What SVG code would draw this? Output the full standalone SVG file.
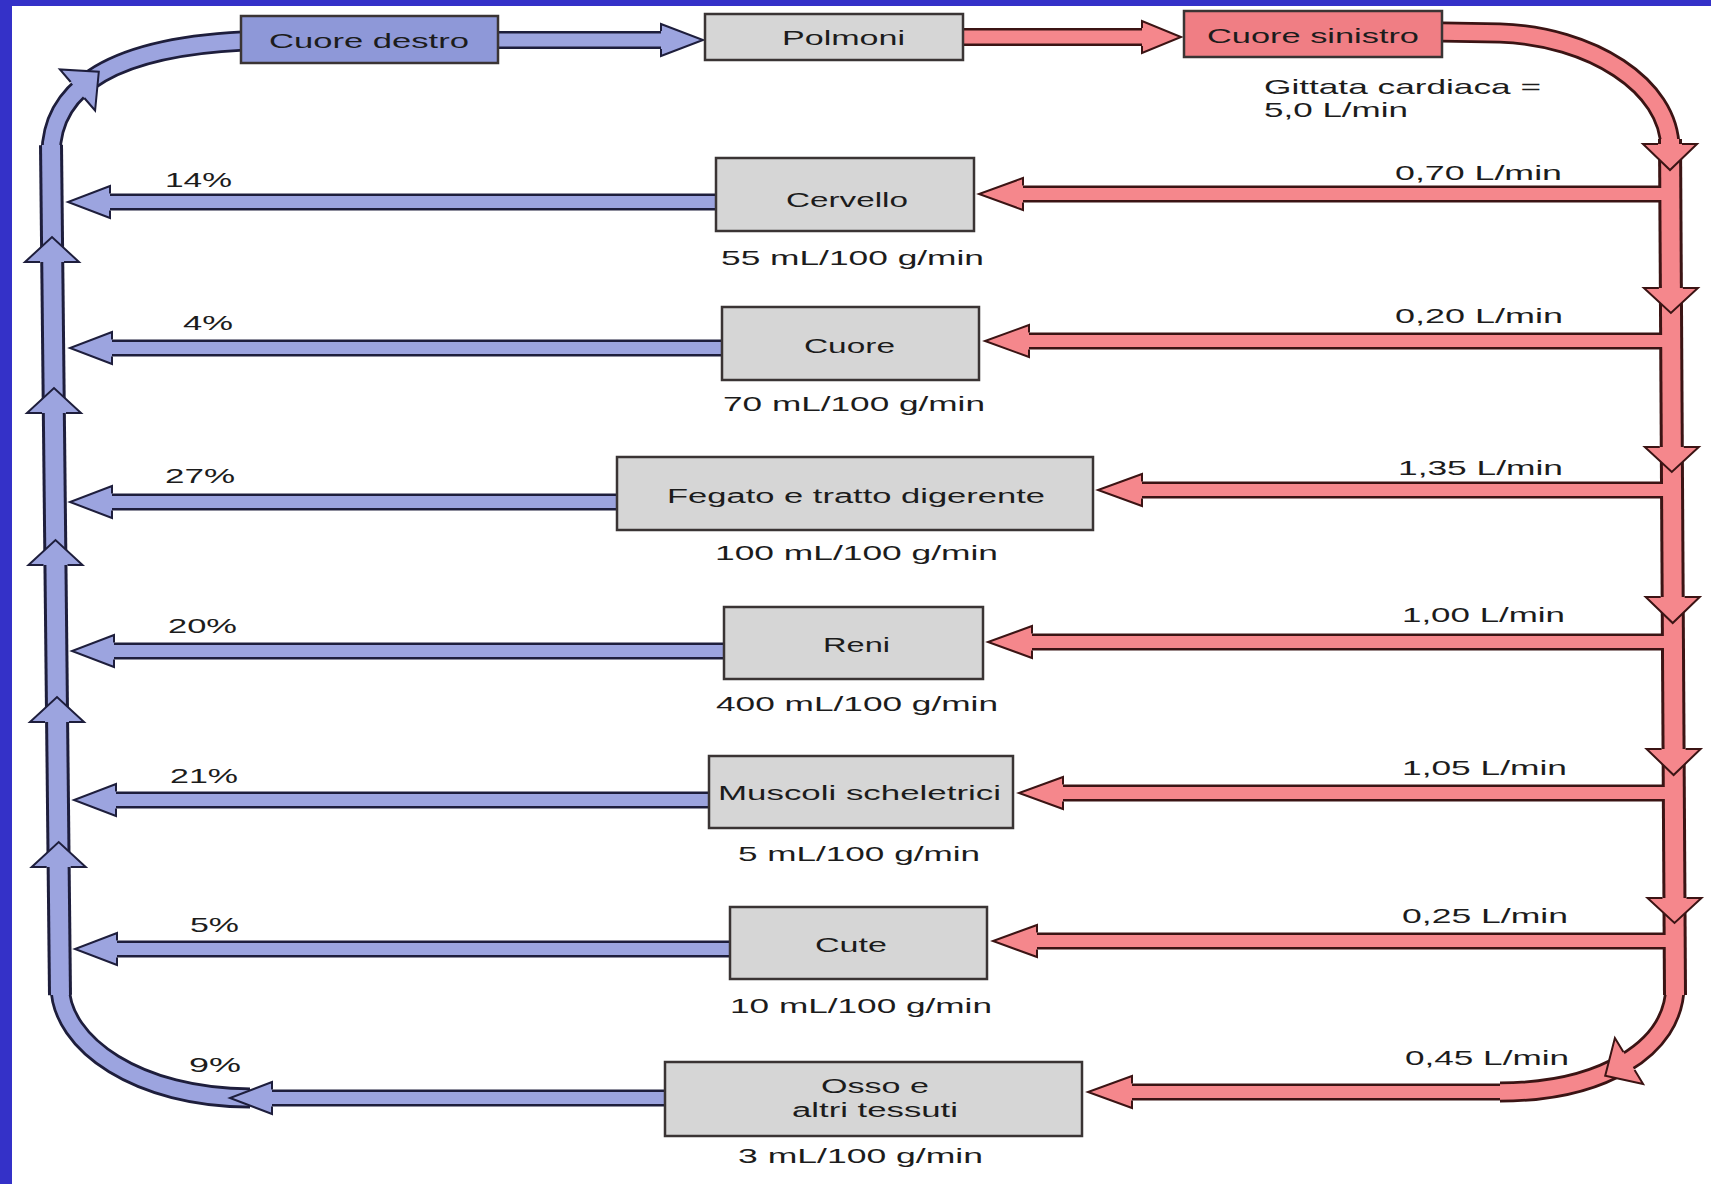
<svg xmlns="http://www.w3.org/2000/svg" xmlns:xlink="http://www.w3.org/1999/xlink" width="1711" height="1184" viewBox="0 0 1711 1184">
<style>
.t{font-family:"Liberation Sans",Arial,sans-serif;font-size:21px;fill:#1c1c1c}
.tb{font-size:20px}
.box{stroke:#3a3434;stroke-width:2.5}
.gray{fill:#d6d6d6}
.bd{fill:none;stroke:#1e1e3c}
.bl{fill:none;stroke:#9ca4df}
.rd{fill:none;stroke:#3b1414}
.rl{fill:none;stroke:#f5878c}
.tw{stroke-width:24}
.ti{stroke-width:18}
.cw{stroke-width:21}
.ci{stroke-width:15.5}
.sw{stroke-width:17}
.si{stroke-width:12}
.bh{fill:#9ca4df;stroke:#1e1e3c;stroke-width:2;stroke-linejoin:miter}
.rh{fill:#f5878c;stroke:#3b1414;stroke-width:2;stroke-linejoin:miter}
</style>
<defs>
<path id="bTrunk" d="M60,995 L51,145"/>
<path id="bCurveB" d="M250,1098 C140,1098 60,1045 60,985"/>
<path id="bCurveT" d="M51,155 C51,95 100,48 243,41"/>
<path id="bTop" d="M498,40 L665,40"/>
<path id="bB1" d="M716,202 L106,202"/>
<path id="bB2" d="M722,348 L108,348"/>
<path id="bB3" d="M617,502 L108,502"/>
<path id="bB4" d="M724,651 L110,651"/>
<path id="bB5" d="M709,800 L112,800"/>
<path id="bB6" d="M730,949 L113,949"/>
<path id="bB7" d="M665,1098 L268,1098"/>
<path id="rCurveT" d="M1442,32 L1500,33 C1590,36 1670,85 1670,149"/>
<path id="rTrunk" d="M1670,139 L1675,995"/>
<path id="rCurveB" d="M1675,985 C1675,1050 1600,1092 1500,1092"/>
<path id="rTop" d="M963,37 L1146,37"/>
<path id="rB1" d="M1670,194 L1019,194"/>
<path id="rB2" d="M1671,341 L1025,341"/>
<path id="rB3" d="M1672,490 L1138,490"/>
<path id="rB4" d="M1673,642 L1028,642"/>
<path id="rB5" d="M1674,793 L1059,793"/>
<path id="rB6" d="M1675,941 L1033,941"/>
<path id="rB7" d="M1505,1092 L1128,1092"/>
</defs>
<rect x="0" y="0" width="1711" height="1184" fill="#ffffff"/>
<rect x="0" y="0" width="1711" height="6" fill="#3431c8"/>
<rect x="0" y="0" width="12" height="1184" fill="#3431c8"/>

<g id="connectors">
  <g id="outlines">
    <use xlink:href="#bTrunk" class="bd tw"/>
    <use xlink:href="#bCurveB" class="bd cw"/>
    <use xlink:href="#bCurveT" class="bd cw"/>
    <use xlink:href="#bTop" class="bd" stroke-width="18"/>
    <use xlink:href="#bB1" class="bd sw"/>
    <use xlink:href="#bB2" class="bd sw"/>
    <use xlink:href="#bB3" class="bd sw"/>
    <use xlink:href="#bB4" class="bd sw"/>
    <use xlink:href="#bB5" class="bd sw"/>
    <use xlink:href="#bB6" class="bd sw"/>
    <use xlink:href="#bB7" class="bd sw"/>
    <use xlink:href="#rTrunk" class="rd tw"/>
    <use xlink:href="#rCurveT" class="rd cw"/>
    <use xlink:href="#rCurveB" class="rd cw"/>
    <use xlink:href="#rTop" class="rd" stroke-width="18"/>
    <use xlink:href="#rB1" class="rd sw"/>
    <use xlink:href="#rB2" class="rd sw"/>
    <use xlink:href="#rB3" class="rd sw"/>
    <use xlink:href="#rB4" class="rd sw"/>
    <use xlink:href="#rB5" class="rd sw"/>
    <use xlink:href="#rB6" class="rd sw"/>
    <use xlink:href="#rB7" class="rd sw"/>
  </g>
  <g id="fills">
    <use xlink:href="#bTrunk" class="bl ti"/>
    <use xlink:href="#bCurveB" class="bl ci"/>
    <use xlink:href="#bCurveT" class="bl ci"/>
    <use xlink:href="#bTop" class="bl" stroke-width="13"/>
    <use xlink:href="#bB1" class="bl si"/>
    <use xlink:href="#bB2" class="bl si"/>
    <use xlink:href="#bB3" class="bl si"/>
    <use xlink:href="#bB4" class="bl si"/>
    <use xlink:href="#bB5" class="bl si"/>
    <use xlink:href="#bB6" class="bl si"/>
    <use xlink:href="#bB7" class="bl si"/>
    <use xlink:href="#rTrunk" class="rl ti"/>
    <use xlink:href="#rCurveT" class="rl ci"/>
    <use xlink:href="#rCurveB" class="rl ci"/>
    <use xlink:href="#rTop" class="rl" stroke-width="13"/>
    <use xlink:href="#rB1" class="rl si"/>
    <use xlink:href="#rB2" class="rl si"/>
    <use xlink:href="#rB3" class="rl si"/>
    <use xlink:href="#rB4" class="rl si"/>
    <use xlink:href="#rB5" class="rl si"/>
    <use xlink:href="#rB6" class="rl si"/>
    <use xlink:href="#rB7" class="rl si"/>
  </g>
  <g id="blue-heads">
    <path class="bh" d="M661,31 L661,24 L703,40 L661,56 L661,49"/>
    <path class="bh" d="M70.7,82 L59.9,69.5 L98.8,71.8 L95.1,110.5 L84.3,98"/>
    <path class="bh" d="M40,262 L25,262 L52,237 L79,262 L64,262"/>
    <path class="bh" d="M42,413 L27,413 L54,388 L81,413 L66,413"/>
    <path class="bh" d="M43.5,565 L28.5,565 L55.5,540 L82.5,565 L67.5,565"/>
    <path class="bh" d="M45,722 L30,722 L57,697 L84,722 L69,722"/>
    <path class="bh" d="M46.7,867 L31.7,867 L58.7,842 L85.7,867 L70.7,867"/>
    <path class="bh" d="M110,193.5 L110,186 L68,202 L110,218 L110,210.5"/>
    <path class="bh" d="M112,339.5 L112,332 L70,348 L112,364 L112,356.5"/>
    <path class="bh" d="M112,493.5 L112,486 L70,502 L112,518 L112,510.5"/>
    <path class="bh" d="M114,642.5 L114,635 L72,651 L114,667 L114,659.5"/>
    <path class="bh" d="M116,791.5 L116,784 L74,800 L116,816 L116,808.5"/>
    <path class="bh" d="M117,940.5 L117,933 L75,949 L117,965 L117,957.5"/>
    <path class="bh" d="M272,1089.5 L272,1082 L230,1098 L272,1114 L272,1106.5"/>
  </g>
  <g id="red-heads">
    <path class="rh" d="M1142,28 L1142,21 L1181,37 L1142,53 L1142,46"/>
    <path class="rh" d="M1658,144 L1643,144 L1670,170 L1697,144 L1682,144"/>
    <path class="rh" d="M1658.9,288 L1643.9,288 L1670.9,313 L1697.9,288 L1682.9,288"/>
    <path class="rh" d="M1659.8,447 L1644.8,447 L1671.8,472 L1698.8,447 L1683.8,447"/>
    <path class="rh" d="M1660.7,597 L1645.7,597 L1672.7,623 L1699.7,597 L1684.7,597"/>
    <path class="rh" d="M1661.6,749 L1646.6,749 L1673.6,775 L1700.6,749 L1685.6,749"/>
    <path class="rh" d="M1662.5,898 L1647.5,898 L1674.5,923 L1701.5,898 L1686.5,898"/>
    <path class="rh" d="M1623.4,1052 L1614.9,1038 L1605.2,1075.7 L1643.1,1084 L1634.6,1070"/>
    <path class="rh" d="M1023,185.5 L1023,178 L979,194 L1023,210 L1023,202.5"/>
    <path class="rh" d="M1029,332.5 L1029,325 L985,341 L1029,357 L1029,349.5"/>
    <path class="rh" d="M1142,481.5 L1142,474 L1098,490 L1142,506 L1142,498.5"/>
    <path class="rh" d="M1032,633.5 L1032,626 L988,642 L1032,658 L1032,650.5"/>
    <path class="rh" d="M1063,784.5 L1063,777 L1019,793 L1063,809 L1063,801.5"/>
    <path class="rh" d="M1037,932.5 L1037,925 L993,941 L1037,957 L1037,949.5"/>
    <path class="rh" d="M1132,1083.5 L1132,1076 L1088,1092 L1132,1108 L1132,1100.5"/>
  </g>
</g>

<g id="connector-labels" class="t">
  <text x="165" y="187" textLength="67" lengthAdjust="spacingAndGlyphs">14%</text>
  <text x="183" y="330" textLength="50" lengthAdjust="spacingAndGlyphs">4%</text>
  <text x="165" y="483" textLength="70" lengthAdjust="spacingAndGlyphs">27%</text>
  <text x="168" y="633" textLength="69" lengthAdjust="spacingAndGlyphs">20%</text>
  <text x="170" y="783" textLength="68" lengthAdjust="spacingAndGlyphs">21%</text>
  <text x="190" y="932" textLength="49" lengthAdjust="spacingAndGlyphs">5%</text>
  <text x="189" y="1072" textLength="52" lengthAdjust="spacingAndGlyphs">9%</text>
  <text x="1395" y="180" textLength="167" lengthAdjust="spacingAndGlyphs">0,70 L/min</text>
  <text x="1395" y="323" textLength="168" lengthAdjust="spacingAndGlyphs">0,20 L/min</text>
  <text x="1398" y="475" textLength="165" lengthAdjust="spacingAndGlyphs">1,35 L/min</text>
  <text x="1402" y="622" textLength="163" lengthAdjust="spacingAndGlyphs">1,00 L/min</text>
  <text x="1402" y="775" textLength="165" lengthAdjust="spacingAndGlyphs">1,05 L/min</text>
  <text x="1402" y="923" textLength="166" lengthAdjust="spacingAndGlyphs">0,25 L/min</text>
  <text x="1405" y="1065" textLength="164" lengthAdjust="spacingAndGlyphs">0,45 L/min</text>
  <text x="1264" y="94" textLength="277" lengthAdjust="spacingAndGlyphs">Gittata cardiaca =</text>
  <text x="1264" y="117" textLength="144" lengthAdjust="spacingAndGlyphs">5,0 L/min</text>
</g>

<g id="n-cuore-destro">
  <rect class="box" x="241" y="16" width="257" height="47" fill="#8e98d8"/>
  <text class="t tb" x="269" y="48" textLength="200" lengthAdjust="spacingAndGlyphs">Cuore destro</text>
</g>
<g id="n-polmoni">
  <rect class="box gray" x="705" y="14" width="258" height="46"/>
  <text class="t tb" x="782" y="45" textLength="123" lengthAdjust="spacingAndGlyphs">Polmoni</text>
</g>
<g id="n-cuore-sinistro">
  <rect class="box" x="1184" y="11" width="258" height="46" fill="#f07e84"/>
  <text class="t tb" x="1207" y="43" textLength="212" lengthAdjust="spacingAndGlyphs">Cuore sinistro</text>
</g>
<g id="n-cervello">
  <rect class="box gray" x="716" y="158" width="258" height="73"/>
  <text class="t tb" x="786" y="207" textLength="122" lengthAdjust="spacingAndGlyphs">Cervello</text>
  <text class="t" x="721" y="265" textLength="263" lengthAdjust="spacingAndGlyphs">55 mL/100 g/min</text>
</g>
<g id="n-cuore">
  <rect class="box gray" x="722" y="307" width="257" height="73"/>
  <text class="t tb" x="804" y="353" textLength="91" lengthAdjust="spacingAndGlyphs">Cuore</text>
  <text class="t" x="723" y="411" textLength="262" lengthAdjust="spacingAndGlyphs">70 mL/100 g/min</text>
</g>
<g id="n-fegato">
  <rect class="box gray" x="617" y="457" width="476" height="73"/>
  <text class="t tb" x="667" y="503" textLength="378" lengthAdjust="spacingAndGlyphs">Fegato e tratto digerente</text>
  <text class="t" x="715" y="560" textLength="283" lengthAdjust="spacingAndGlyphs">100 mL/100 g/min</text>
</g>
<g id="n-reni">
  <rect class="box gray" x="724" y="607" width="259" height="72"/>
  <text class="t tb" x="823" y="652" textLength="67" lengthAdjust="spacingAndGlyphs">Reni</text>
  <text class="t" x="716" y="711" textLength="282" lengthAdjust="spacingAndGlyphs">400 mL/100 g/min</text>
</g>
<g id="n-muscoli">
  <rect class="box gray" x="709" y="756" width="304" height="72"/>
  <text class="t tb" x="718" y="800" textLength="283" lengthAdjust="spacingAndGlyphs">Muscoli scheletrici</text>
  <text class="t" x="738" y="861" textLength="242" lengthAdjust="spacingAndGlyphs">5 mL/100 g/min</text>
</g>
<g id="n-cute">
  <rect class="box gray" x="730" y="907" width="257" height="72"/>
  <text class="t tb" x="815" y="952" textLength="72" lengthAdjust="spacingAndGlyphs">Cute</text>
  <text class="t" x="730" y="1013" textLength="262" lengthAdjust="spacingAndGlyphs">10 mL/100 g/min</text>
</g>
<g id="n-osso">
  <rect class="box gray" x="665" y="1062" width="417" height="74"/>
  <text class="t tb" x="821" y="1093" textLength="108" lengthAdjust="spacingAndGlyphs">Osso e</text>
  <text class="t tb" x="792" y="1117" textLength="166" lengthAdjust="spacingAndGlyphs">altri tessuti</text>
  <text class="t" x="738" y="1163" textLength="245" lengthAdjust="spacingAndGlyphs">3 mL/100 g/min</text>
</g>
</svg>
